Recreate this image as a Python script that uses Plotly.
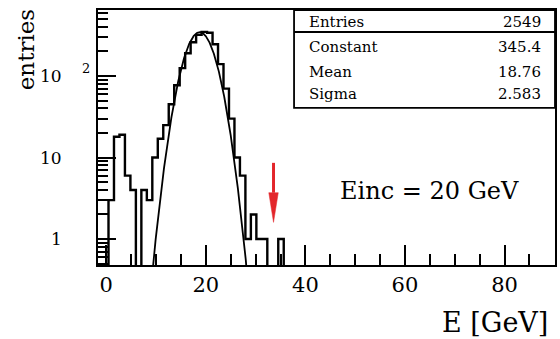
import numpy as np
import plotly.graph_objects as go

# Energy histogram: fixed-width bins starting at BIN_LO
BIN_LO = 0.45
BIN_WIDTH = 1.1
counts = [3, 18, 19, 6, 4, 0, 4, 3, 10, 17, 25, 45, 77, 125, 190, 260,
          320, 348, 340, 245, 140, 70, 30, 10, 6, 1, 2, 1, 1, 0, 0, 1]

# Gaussian fit results shown in the stats box
n_entries = 2549
fit_constant = 345.4
fit_mean = 18.76
fit_sigma = 2.583

beam_label = "Einc = 20 GeV"
arrow_energy = 33.6          # marker arrow position [GeV]
arrow_tail, arrow_base, arrow_tip = 8.6, 3.7, 1.6   # entries levels

x_range = [-1.66, 90.14]
y_range = [-0.319, 2.81]     # log10 units

# step outline of the histogram (empty bins drop below the axis floor)
edges = BIN_LO + BIN_WIDTH * np.arange(len(counts) + 1)
levels = [c if c > 0 else 0.05 for c in counts]
step_x = [edges[0]] + list(edges)
step_y = [0.05] + levels + [levels[-1]]
step_x.append(edges[-1])
step_y.append(0.05)

# fitted gaussian
fx = np.linspace(4, 34, 600)
fy = fit_constant * np.exp(-0.5 * ((fx - fit_mean) / fit_sigma) ** 2)

SERIF = "DejaVu Serif"
fig = go.Figure()
fig.add_trace(go.Scatter(x=step_x, y=step_y, mode="lines", line_shape="hv",
                         line=dict(color="black", width=2.4), hoverinfo="skip"))
fig.add_trace(go.Scatter(x=fx, y=fy, mode="lines",
                         line=dict(color="black", width=1.8), hoverinfo="skip"))

minor_y = [m * 10.0 ** d for d in (-1, 0, 1, 2) for m in range(2, 10)
           if 0.45 <= m * 10.0 ** d <= 650]

fig.update_layout(
    width=560, height=339,
    margin=dict(l=98, r=3, t=10, b=74),
    paper_bgcolor="white", plot_bgcolor="white",
    showlegend=False,
    xaxis=dict(range=x_range, showgrid=False, zeroline=False,
               showline=True, mirror=True, linecolor="black", linewidth=2,
               tickvals=[0, 20, 40, 60, 80], ticks="inside", ticklen=20,
               tickwidth=1.8, tickcolor="black",
               tickfont=dict(family=SERIF, size=21, color="black"),
               minor=dict(dtick=5, tick0=0, ticks="inside", ticklen=11,
                          tickwidth=1.5, tickcolor="black")),
    yaxis=dict(type="log", range=y_range, showgrid=False, zeroline=False,
               showline=True, mirror=True, linecolor="black", linewidth=2,
               tickvals=[1, 10, 100], ticks="inside", ticklen=18,
               tickwidth=1.8, tickcolor="black", showticklabels=False,
               minor=dict(tickvals=minor_y, ticks="inside", ticklen=10,
                          tickwidth=1.5, tickcolor="black")),
)

# y tick labels
ylab_font = dict(family=SERIF, size=17, color="black")
for val, txt in [(1, "1"), (10, "10"), (100, "10")]:
    fig.add_annotation(x=-0.074, xref="paper", y=np.log10(val), yref="y",
                       text=txt, showarrow=False, xanchor="right",
                       yanchor="middle", font=ylab_font)
fig.add_annotation(x=-0.04, xref="paper", y=0.772, yref="paper", text="2",
                   showarrow=False, xanchor="left", yanchor="middle",
                   font=dict(family=SERIF, size=13, color="black"))

# axis titles
fig.add_annotation(x=-0.157, xref="paper", y=0.843, yref="paper",
                   text="entries", textangle=-90, showarrow=False,
                   xanchor="center", yanchor="middle",
                   font=dict(family=SERIF, size=23, color="black"))
fig.add_annotation(x=0.989, xref="paper", y=-0.225, yref="paper",
                   text="E [GeV]", showarrow=False, xanchor="right",
                   yanchor="middle", font=dict(family=SERIF, size=27, color="black"))

# beam energy label
fig.add_annotation(x=0.725, xref="paper", y=0.29, yref="paper",
                   text=beam_label, showarrow=False, xanchor="center",
                   yanchor="middle", font=dict(family=SERIF, size=24, color="black"))

# stats box
BOX_X0, BOX_Y0, HDR_Y = 0.429, 0.616, 0.914
fig.add_shape(type="rect", xref="paper", yref="paper", x0=BOX_X0, x1=1.0,
              y0=BOX_Y0, y1=1.0, line=dict(color="black", width=1.8),
              fillcolor="white", layer="above")
fig.add_shape(type="line", xref="paper", yref="paper", x0=BOX_X0, x1=1.0,
              y0=HDR_Y, y1=HDR_Y, line=dict(color="black", width=2))
stat_rows = [("Entries", f"{n_entries}", 0.953),
             ("Constant", f"{fit_constant}", 0.855),
             ("Mean", f"{fit_mean}", 0.758),
             ("Sigma", f"{fit_sigma}", 0.672)]
stat_font = dict(family=SERIF, size=15, color="black")
for name, val, yy in stat_rows:
    fig.add_annotation(x=0.4575, xref="paper", y=yy, yref="paper", text=name,
                       showarrow=False, xanchor="left", yanchor="middle",
                       font=stat_font)
    fig.add_annotation(x=0.974, xref="paper", y=yy, yref="paper", text=val,
                       showarrow=False, xanchor="right", yanchor="middle",
                       font=stat_font)

# red marker arrow (shape coordinates are data values on the log axis)
RED = "#e3262b"
fig.add_shape(type="line", xref="x", yref="y", x0=arrow_energy, x1=arrow_energy,
              y0=arrow_tail, y1=arrow_base, line=dict(color=RED, width=3))
half = 0.95
fig.add_shape(type="path", xref="x", yref="y",
              path=(f"M {arrow_energy - half},{arrow_base} "
                    f"L {arrow_energy + half},{arrow_base} "
                    f"L {arrow_energy},{arrow_tip} Z"),
              fillcolor=RED, line=dict(color=RED, width=0.5))

fig.write_html("out.html")
